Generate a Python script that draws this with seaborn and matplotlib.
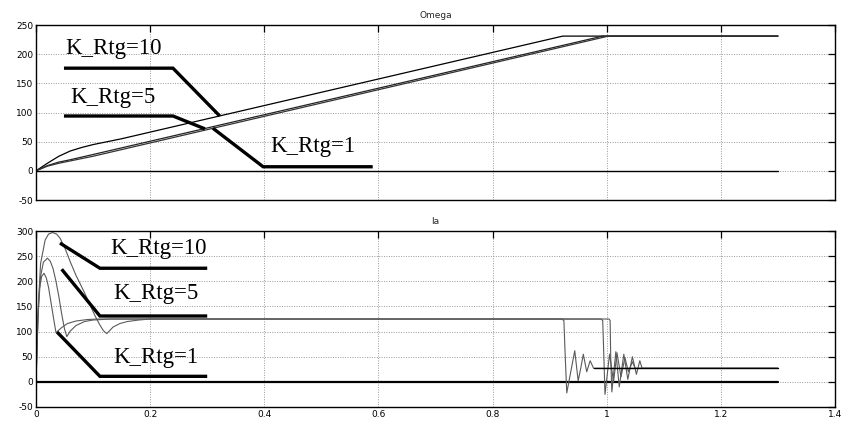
import numpy as np
import pandas as pd
import matplotlib
matplotlib.use("Agg")
import matplotlib.pyplot as plt
import seaborn as sns

# ---- speed response (Omega) for each regulator gain ----
omega_t_k10 = [0.0, 0.02, 0.04, 0.06, 0.08, 0.10, 0.15, 0.923, 1.30]
omega_v_k10 = [0.0, 13, 25, 34, 40, 45, 55, 231, 231]
omega_t_k5 = [0.0, 0.02, 0.04, 0.06, 0.10, 0.993, 1.30]
omega_v_k5 = [0.0, 9, 15, 19, 28, 231, 231]
omega_t_k1 = [0.0, 0.02, 0.04, 0.06, 0.10, 1.003, 1.30]
omega_v_k1 = [0.0, 8, 13, 17, 25, 231, 231]

# ---- armature current (Ia) for each regulator gain ----
ia_t_k10 = [0.0, 0.004, 0.008, 0.016, 0.022, 0.029, 0.036, 0.042, 0.05, 0.06, 0.07,
            0.077, 0.086, 0.095, 0.104, 0.112, 0.118, 0.124, 0.130, 0.135, 0.147,
            0.16, 0.18, 0.20, 0.921, 0.925, 0.927, 0.930, 0.937, 0.944, 0.950, 0.955,
            0.959, 0.965, 0.971, 0.977, 1.30]
ia_v_k10 = [0.0, 150, 235, 282, 294, 297, 294, 286, 268, 239, 212,
            196, 175, 152, 130, 113, 102, 96, 103, 109, 116,
            120, 123, 125, 125, 122, 60, -22, 20, 62, 2, 30,
            55, 20, 42, 27, 27]
ia_t_k5 = [0.0, 0.004, 0.008, 0.013, 0.020, 0.025, 0.030, 0.035, 0.040, 0.045,
           0.050, 0.054, 0.060, 0.070, 0.085, 0.100, 0.130, 0.990, 0.993, 0.995, 0.997,
           1.005, 1.012, 1.018, 1.025, 1.032, 1.038, 1.045, 1.050, 1.30]
ia_v_k5 = [0.0, 140, 210, 238, 246, 240, 225, 200, 170, 135,
           105, 90, 101, 112, 120, 123, 125, 125, 122, 50, -25,
           55, 0, 58, 10, 48, 20, 40, 27, 27]
ia_t_k1 = [0.0, 0.003, 0.006, 0.010, 0.014, 0.018, 0.022, 0.026, 0.031, 0.035,
           0.040, 0.045, 0.055, 0.070, 0.090, 0.110, 1.004, 1.006, 1.007, 1.009,
           1.016, 1.022, 1.030, 1.037, 1.045, 1.052, 1.058, 1.062, 1.30]
ia_v_k1 = [0.0, 120, 185, 210, 216, 207, 188, 160, 125, 98,
           103, 108, 116, 121, 124, 125, 125, 122, 50, -20,
           60, -10, 55, 5, 50, 15, 42, 27, 27]

# zero reference trace shown in both panels
zero_t = [0.0, 1.30]
zero_v = [0.0, 0.0]

gain_labels = ["K_Rtg=10", "K_Rtg=5", "K_Rtg=1"]

# callout text anchors (x, y) and leader polylines in data units
omega_text_xy = [(0.051, 209), (0.060, 125), (0.410, 41)]
omega_leaders = [
    ([0.049, 0.240, 0.322], [176, 176, 94]),
    ([0.049, 0.240, 0.296], [94, 94, 72]),
    ([0.590, 0.398, 0.310], [7, 7, 73]),
]
ia_text_xy = [(0.130, 266), (0.136, 176), (0.136, 49)]
ia_leaders = [
    ([0.042, 0.112, 0.300], [276, 226, 226]),
    ([0.045, 0.112, 0.300], [224, 131, 131]),
    ([0.037, 0.112, 0.300], [99, 11, 11]),
]


def long_frame(series):
    rows = []
    for name, ts, vs in series:
        for t, v in zip(ts, vs):
            rows.append({"t": t, "value": v, "trace": name})
    return pd.DataFrame(rows)


omega_df = long_frame([
    ("K_Rtg=10", omega_t_k10, omega_v_k10),
    ("K_Rtg=5", omega_t_k5, omega_v_k5),
    ("K_Rtg=1", omega_t_k1, omega_v_k1),
])
ia_df = long_frame([
    ("K_Rtg=10", ia_t_k10, ia_v_k10),
    ("K_Rtg=5", ia_t_k5, ia_v_k5),
    ("K_Rtg=1", ia_t_k1, ia_v_k1),
])
zero_df = long_frame([("zero", zero_t, zero_v)])

sns.set_style("white")
plt.rcParams["font.family"] = ["Liberation Sans Narrow", "DejaVu Sans"]
plt.rcParams["axes.unicode_minus"] = False

fig = plt.figure(figsize=(8.43, 4.24), dpi=100)
ax_w = fig.add_axes([0.0427, 0.5283, 0.9478, 0.4127])
ax_i = fig.add_axes([0.0427, 0.0401, 0.9478, 0.4150])


def style_axis(ax, yticks, ylim, show_xlabels):
    ax.set_xlim(0, 1.4)
    ax.set_ylim(*ylim)
    ax.set_xticks(np.arange(0, 1.41, 0.2))
    ax.set_yticks(yticks)
    if show_xlabels:
        ax.set_xticklabels(["0", "0.2", "0.4", "0.6", "0.8", "1", "1.2", "1.4"])
    else:
        ax.set_xticklabels([])
    ax.grid(True, linestyle=(0, (1, 1.5)), color="#9a9a9a", linewidth=0.7)
    ax.tick_params(direction="in", length=5, width=0.9, top=True, right=True,
                   labelsize=6.5, pad=2, colors="black")
    for s in ax.spines.values():
        s.set_color("black")
        s.set_linewidth(1.0)
    ax.set_xlabel("")
    ax.set_ylabel("")


# Omega panel
sns.lineplot(data=zero_df, x="t", y="value", ax=ax_w, color="black",
             linewidth=1.0, sort=False, estimator=None, legend=False)
sns.lineplot(data=omega_df, x="t", y="value", hue="trace", ax=ax_w,
             palette={"K_Rtg=10": "black", "K_Rtg=5": "#222222", "K_Rtg=1": "#333333"},
             linewidth=0.9, sort=False, estimator=None, legend=False)
style_axis(ax_w, np.arange(-50, 251, 50), (-50, 250), False)
ax_w.set_title("Omega", fontsize=6.5, pad=5)

# Ia panel
sns.lineplot(data=zero_df, x="t", y="value", ax=ax_i, color="black",
             linewidth=1.6, sort=False, estimator=None, legend=False)
sns.lineplot(data=ia_df, x="t", y="value", hue="trace", ax=ax_i,
             palette={"K_Rtg=10": "#5a5a5a", "K_Rtg=5": "#5a5a5a", "K_Rtg=1": "#5a5a5a"},
             linewidth=0.8, sort=False, estimator=None, legend=False)
ax_i.plot([0.977, 1.30], [27, 27], color="black", linewidth=1.0)
style_axis(ax_i, np.arange(-50, 301, 50), (-50, 300), True)
ax_i.set_title("Ia", fontsize=6.5, pad=5)

# gain callouts
for ax, txy, leaders in ((ax_w, omega_text_xy, omega_leaders),
                         (ax_i, ia_text_xy, ia_leaders)):
    for label, (tx, ty), (lx, ly) in zip(gain_labels, txy, leaders):
        ax.plot(lx, ly, color="black", linewidth=2.4, solid_capstyle="butt",
                solid_joinstyle="miter")
        ax.text(tx, ty, label, fontsize=16.5, family="Liberation Serif",
                ha="left", va="center", color="black")

fig.savefig("out.png", dpi=100)
